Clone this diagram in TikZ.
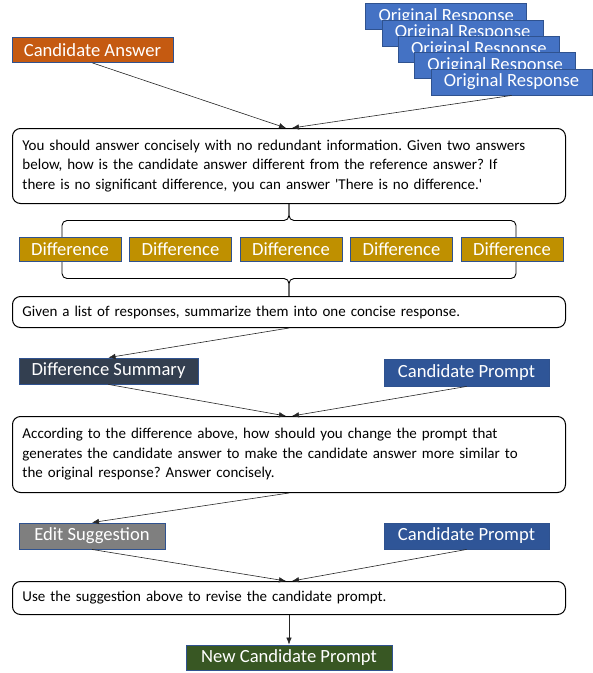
\documentclass[tikz,border=0pt]{standalone}
\usepackage{fontspec}
\setmainfont{Carlito}
\frenchspacing
\usetikzlibrary{arrows.meta}
\usetikzlibrary{backgrounds}

\definecolor{edgeblue}{HTML}{2F528F}
\definecolor{answerorange}{HTML}{C55A11}
\definecolor{origblue}{HTML}{4472C4}
\definecolor{diffgold}{HTML}{BF9000}
\definecolor{summnavy}{HTML}{333F50}
\definecolor{promptblue}{HTML}{2F5597}
\definecolor{editgray}{HTML}{7F7F7F}
\definecolor{newgreen}{HTML}{385723}

\tikzset{
	labelbox/.style={draw=edgeblue, line width=0.9pt, text=white, inner sep=0pt, font=\fontsize{18.6}{20}\selectfont},
	promptbox/.style={draw=black, line width=1pt, rounded corners=8pt, fill=white, align=left, anchor=north west, inner xsep=10pt, inner ysep=0pt, font=\fontsize{15}{19.5}\selectfont},
	flow/.style={-{Latex[length=7pt,width=5.5pt]}, line width=0.6pt, draw=black!85}
}

\begin{document}
\begin{tikzpicture}[x=1pt, y=-1pt]
	\useasboundingbox (0,0) rectangle (593,673);

	% inputs of the first prompt
	\node[labelbox, fill=answerorange, minimum width=161pt, minimum height=25pt] (answer) at (92.5,50) {Candidate Answer};
	\foreach \i in {1,...,5} {
		\node[labelbox, fill=origblue, minimum width=161pt, minimum height=26pt] (orig\i) at ({511.5-(5-\i)*16.3}, {82-(5-\i)*16.3}) {Original Response};
	}

	% first prompt
	\node[promptbox, minimum height=75pt, text width=533pt] (ask) at (12,128) {You should answer concisely with no redundant information. Given two answers\\below, how is the candidate answer different from the reference answer? If\\there is no significant difference, you can answer \textquotesingle There is no difference.\textquotesingle};
	\draw[flow] (answer.south) -- ([xshift=-3pt]ask.north);
	\draw[flow] (orig5.south) -- ([xshift=3pt]ask.north);

	% one difference per original response
	\foreach \i in {1,...,5} {
		\node[labelbox, fill=diffgold, minimum width=102pt, minimum height=24pt] (diff\i) at ({70+110.5*(\i-1)}, 249) {Difference};
	}

	% summary prompt
	\node[promptbox, minimum height=31pt, text width=533pt] (summ) at (12,296) {Given a list of responses, summarize them into one concise response.};

	% braces round the differences
	\begin{scope}[on background layer]
		\draw[line width=0.9pt, rounded corners=5pt] (ask.south) |- (62,220.5) -- (62,245);
		\draw[line width=0.9pt, rounded corners=5pt] (ask.south) |- (516,220.5) -- (516,245);
		\draw[line width=0.9pt, rounded corners=5pt] (summ.north) |- (62,278.5) -- (62,255);
		\draw[line width=0.9pt, rounded corners=5pt] (summ.north) |- (516,278.5) -- (516,255);
	\end{scope}

	% summary and prompt go into the revision prompt
	\node[labelbox, fill=summnavy, minimum width=179pt, minimum height=26pt] (diffsum) at (108.5,371) {Difference Summary};
	\node[labelbox, fill=promptblue, minimum width=165pt, minimum height=27pt] (prompt1) at (466.5,372.5) {Candidate Prompt};
	\draw[flow] (summ.south) -- (diffsum.north);

	\node[promptbox, minimum height=76pt, text width=533pt] (revise) at (12,416) {According to the difference above, how should you change the prompt that\\generates the candidate answer to make the candidate answer more similar to\\the original response? Answer concisely.};
	\draw[flow] (diffsum.south) -- ([xshift=-3pt]revise.north);
	\draw[flow] (prompt1.south) -- ([xshift=3pt]revise.north);

	% edit step
	\node[labelbox, fill=editgray, minimum width=146pt, minimum height=26pt] (edit) at (92,536) {Edit Suggestion};
	\node[labelbox, fill=promptblue, minimum width=165pt, minimum height=26pt] (prompt2) at (466.5,536) {Candidate Prompt};
	\draw[flow] (revise.south) -- (edit.north);

	\node[promptbox, minimum height=33pt, text width=533pt] (apply) at (12,581) {Use the suggestion above to revise the candidate prompt.};
	\draw[flow] (edit.south) -- ([xshift=-3pt]apply.north);
	\draw[flow] (prompt2.south) -- ([xshift=3pt]apply.north);

	% result
	\node[labelbox, fill=newgreen, minimum width=206pt, minimum height=25pt] (newprompt) at (289,657.5) {New Candidate Prompt};
	\draw[flow] (apply.south) -- (newprompt.north);
\end{tikzpicture}
\end{document}
